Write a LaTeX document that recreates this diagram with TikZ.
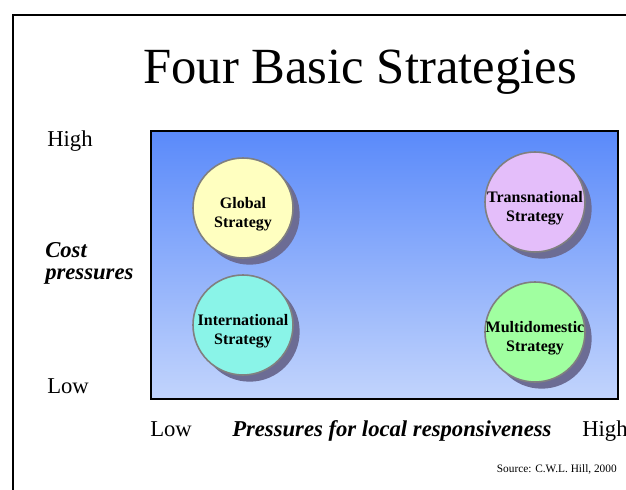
\documentclass[tikz,border=0pt]{standalone}
\definecolor{stratBlueTop}{RGB}{90, 138, 250}
\definecolor{stratBlueLow}{RGB}{194, 212, 252}
\definecolor{stratRim}{RGB}{128, 128, 128}
\definecolor{stratShade}{RGB}{108, 108, 148}
\definecolor{globalYellow}{RGB}{255, 255, 192}
\definecolor{interAqua}{RGB}{138, 244, 232}
\definecolor{transLilac}{RGB}{228, 190, 250}
\definecolor{multiGreen}{RGB}{160, 255, 160}
\usepackage{fontspec}
\setmainfont{Liberation Serif}
\usepackage{tikz}
\usetikzlibrary{shadows}
\usepackage{xcolor}

\begin{document}
\begin{tikzpicture}[x=0.75pt, y=-0.75pt, every node/.style={font=\fontsize{17}{20}\selectfont, inner sep=0pt},
  strat/.style={circle, draw=stratRim, line width=1.2pt, minimum size=75pt,
    drop shadow={shadow xshift=5pt, shadow yshift=-5pt, fill=stratShade, opacity=1}},
  stratText/.style={align=center, yshift=-4.5pt, font=\bfseries\fontsize{12}{14.5}\selectfont}]
  \useasboundingbox (0,0) rectangle (626,490);
  \clip (0,0) rectangle (626,490);
  \draw[line width=1.5pt] (13,490) -- (13,15) -- (626,15);
  \node[anchor=base, font=\fontsize{38}{40}\selectfont] (title) at (360,83) {Four Basic Strategies};

  % strategy field
  \shade[top color=stratBlueTop, bottom color=stratBlueLow] (151,131) rectangle (618,399);
  \draw[line width=1.5pt] (151,131) rectangle (618,399);

  \node[strat, fill=globalYellow, label={[stratText]center:Global\\Strategy}] (global) at (243,208) {};
  \node[strat, fill=interAqua, label={[stratText]center:International\\Strategy}] (inter) at (243,325) {};
  \node[strat, fill=transLilac, label={[stratText]center:Transnational\\Strategy}] (trans) at (535,202) {};
  \node[strat, fill=multiGreen, label={[stratText]center:Multidomestic\\Strategy}] (multi) at (535,332) {};

  % axis labels
  \node[anchor=base west] (costHigh) at (47,146) {High};
  \node[anchor=base west, align=left, font=\bfseries\itshape\fontsize{17}{16.5}\selectfont] (cost) at (45,279) {Cost\\pressures};
  \node[anchor=base west] (costLow) at (47,393) {Low};
  \node[anchor=base west] (localLow) at (150,436) {Low};
  \node[anchor=base west, font=\bfseries\itshape\fontsize{17}{20}\selectfont] (local) at (232,436) {Pressures for local responsiveness};
  \node[anchor=base west] (localHigh) at (582,436) {High};
  \node[anchor=base east, font=\fontsize{8.5}{10}\selectfont] (source) at (617,472) {Source: C.W.L. Hill, 2000};
\end{tikzpicture}
\end{document}
